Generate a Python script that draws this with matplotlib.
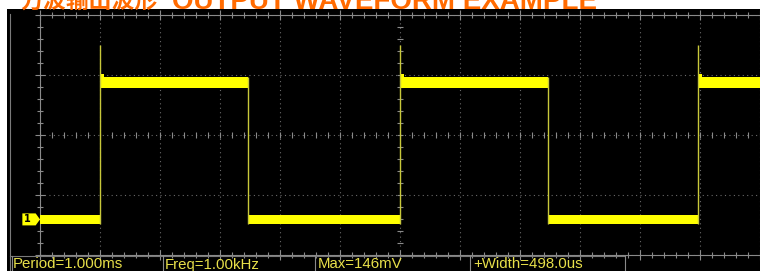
import numpy as np
import matplotlib
matplotlib.use("Agg")
import matplotlib.pyplot as plt
from matplotlib.patches import Rectangle, Polygon
from matplotlib.lines import Line2D
from matplotlib.transforms import blended_transform_factory

# ---------------- data ----------------
title_cn = "方波输出波形"
title_en = "OUTPUT WAVEFORM EXAMPLE"
time_per_div_ms = 0.2
mv_per_div = 50
rise_times_ms = [0.2, 1.2, 2.193]
fall_times_ms = [0.693, 1.693]
high_top_mv = 119
high_bot_mv = 110
low_top_mv = 4
low_bot_mv = -3
overshoot_mv = 146
meas_labels = ["Period=1.000ms", "Freq=1.00kHz", "Max=146mV", "+Width=498.0us"]
channel_label = "1"

# ---------------- figure ----------------
W, H = 760, 271
fig = plt.figure(figsize=(W / 100, H / 100), dpi=100, facecolor="white")

def fx(px):
    return px / W

def fy(py):
    return 1 - py / H

# black scope screen
fig.patches.append(Rectangle((fx(7), 0), 1 - fx(7), fy(9), transform=fig.transFigure,
                             facecolor="black", edgecolor="none", zorder=-5))

# title (clipped at top, as in the reference)
fig.text(fx(20), fy(9), title_cn, color="#ff6a00", fontsize=16.5, fontweight="bold",
         family=["Noto Sans CJK SC"], va="baseline", ha="left")
fig.text(fx(172), fy(9), title_en, color="#ff6a00", fontsize=20, fontweight="bold",
         family=["Liberation Sans"], va="baseline", ha="left")

# axes for screen grid: x 40..760, y 15..255
ax = fig.add_axes([fx(40), fy(255), fx(720), (255 - 15) / H])
ax.set_facecolor("black")
xmax = 12 * time_per_div_ms
y0 = -(255 - 220) / 60 * mv_per_div
y1 = (220 - 15) / 60 * mv_per_div
ax.set_xlim(0, xmax)
ax.set_ylim(y0, y1)

gray = "#8a8a8a"
for s in ["top", "bottom", "left"]:
    ax.spines[s].set_color(gray)
    ax.spines[s].set_linewidth(0.8)
ax.spines["right"].set_visible(False)

ax.set_xticks(np.arange(0, xmax + 1e-9, time_per_div_ms))
ax.set_xticks(np.arange(0, xmax + 1e-9, time_per_div_ms / 5), minor=True)
ax.set_yticks(np.arange(y1 - 4 * mv_per_div, y1 + 1e-9, mv_per_div))
ax.set_yticks(np.arange(y1 - 4 * mv_per_div, y1 + 1e-9, mv_per_div / 5), minor=True)
ax.tick_params(which="both", direction="inout", top=True, bottom=True, left=True,
               right=False, color=gray, labelbottom=False, labelleft=False, width=0.8)
ax.tick_params(which="major", length=7)
ax.tick_params(which="minor", length=4)
ax.grid(True, which="major", color="#6a6a6a", linestyle=(0, (1, 3)), linewidth=0.8)

# center cross ticks
xc = xmax / 2
yc = y1 - 2 * mv_per_div
xm = np.arange(0, xmax + 1e-9, time_per_div_ms / 5)
ym = np.arange(y1 - 4 * mv_per_div, y1 + 1e-9, mv_per_div / 5)
ax.plot(xm, np.full_like(xm, yc), linestyle="none", marker="|", markersize=4,
        color=gray, markeredgewidth=0.8)
ax.plot(np.full_like(ym, xc), ym, linestyle="none", marker="_", markersize=4,
        color=gray, markeredgewidth=0.8)

# ---------------- waveform ----------------
yellow = "#ffff00"
edge_col = "#c8c83a"
edges = sorted([(t, "r") for t in rise_times_ms] + [(t, "f") for t in fall_times_ms])
bounds = [0.0] + [e[0] for e in edges] + [xmax]
state = "low"
for i in range(len(bounds) - 1):
    a, b = bounds[i], bounds[i + 1]
    if state == "high":
        ax.fill_between([a, b], high_bot_mv, high_top_mv, color=yellow, lw=0, zorder=3)
        ax.fill_between([a, a + 0.012], high_bot_mv, high_top_mv + 3, color=yellow, lw=0, zorder=3)
    else:
        ax.fill_between([a, b], low_bot_mv, low_top_mv, color=yellow, lw=0, zorder=3)
    if i < len(edges):
        t, kind = edges[i]
        if kind == "r":
            ax.vlines(t, low_bot_mv, overshoot_mv, color=edge_col, lw=1.0, zorder=4)
            state = "high"
        else:
            ax.vlines(t, low_bot_mv, high_top_mv, color=edge_col, lw=1.0, zorder=4)
            state = "low"

# channel marker
tr = blended_transform_factory(ax.transAxes, ax.transData)
mk = Polygon([(-0.0245, low_bot_mv - 1.5), (-0.006, low_bot_mv - 1.5), (0, 0.5),
              (-0.006, low_top_mv + 1.5), (-0.0245, low_top_mv + 1.5)],
             closed=True, transform=tr, facecolor=yellow, edgecolor="none",
             clip_on=False, zorder=5)
ax.add_patch(mk)
ax.text(-0.0175, 0.5, channel_label, transform=tr, color="black", fontsize=7,
        fontweight="bold", ha="center", va="center", clip_on=False, zorder=6)

# ---------------- frame & measurement bar ----------------
fig.lines.append(Line2D([fx(10), fx(10)], [0, fy(14)], transform=fig.transFigure,
                        color="#7a7a7a", lw=0.8))
fig.lines.append(Line2D([fx(10), fx(625)], [fy(255.5), fy(255.5)], transform=fig.transFigure,
                        color="#7a7a7a", lw=0.8))
for xs in [12, 163, 315, 470, 625]:
    fig.lines.append(Line2D([fx(xs), fx(xs)], [0, fy(255.5)], transform=fig.transFigure,
                            color="#8a8a8a", lw=0.8))
for xs, lab in zip([13, 165, 318, 473], meas_labels):
    fig.text(fx(xs), fy(268.5), lab, color="#e8e04a", fontsize=10.8,
             family="Liberation Sans", ha="left", va="baseline")

fig.savefig("out.png", dpi=100, facecolor="white")
